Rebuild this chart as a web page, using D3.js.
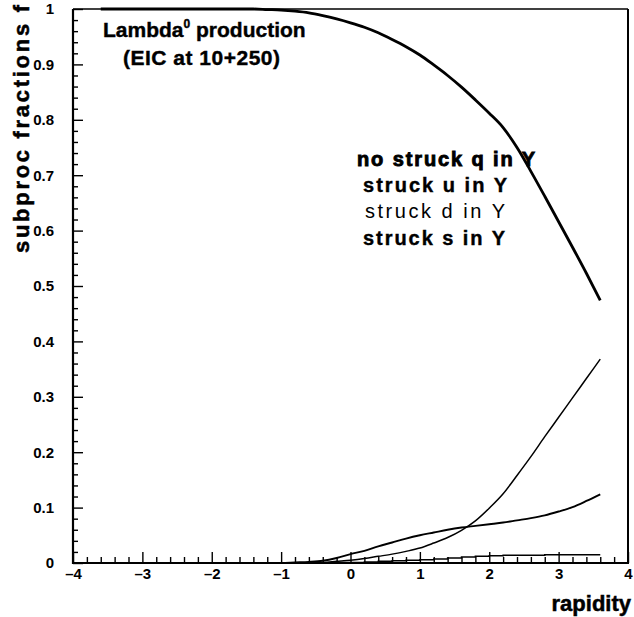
<!DOCTYPE html>
<html>
<head>
<meta charset="utf-8">
<script src="https://cdn.jsdelivr.net/npm/d3@7"></script>
<style>
  html, body { margin: 0; padding: 0; background: #fff; }
  svg { display: block; }
  text { font-family: "Liberation Sans", Arial, Helvetica, sans-serif; fill: #000; }
</style>
</head>
<body>
<svg id="chart" width="634" height="617"></svg>
<script>
// rapidity grid of the fraction curves
const rapidity = [-3.6,-3.4,-3.2,-3.0,-2.8,-2.6,-2.4,-2.2,-2.0,-1.8,-1.6,-1.4,-1.2,-1.0,-0.8,-0.6,-0.4,-0.2,
                  0.0,0.2,0.4,0.6,0.8,1.0,1.2,1.4,1.6,1.8,2.0,2.2,2.4,2.6,2.8,3.0,3.2,3.4,3.6];

// subprocess fractions
const noStruckQ = [1,1,1,1,1,1,1,1,1,1,1,1,0.999,0.998,0.996,0.993,0.988,0.982,
                   0.975,0.967,0.957,0.945,0.932,0.917,0.899,0.880,0.859,0.836,0.812,0.786,0.750,0.707,0.662,0.616,0.570,0.523,0.474];
const struckU   = [0,0,0,0,0,0,0,0,0,0,0,0,0,0,0,0,0.001,0.003,
                   0.005,0.008,0.012,0.016,0.021,0.027,0.036,0.046,0.059,0.076,0.099,0.125,0.158,0.192,0.228,0.263,0.298,0.333,0.368];
const struckD   = [0,0,0,0,0,0,0,0,0,0,0,0,0,0,0.001,0.002,0.004,0.009,
                   0.016,0.022,0.030,0.037,0.044,0.050,0.055,0.060,0.064,0.067,0.070,0.073,0.077,0.081,0.086,0.093,0.101,0.112,0.124];
const struckS   = [0,0,0,0,0,0,0,0,0,0,0,0,0,0,0,0,0,0.001,
                   0.001,0.002,0.003,0.004,0.005,0.006,0.007,0.009,0.011,0.012,0.013,0.014,0.014,0.014,0.015,0.015,0.015,0.015,0.015];

// axis ticks and labels
const xTicks = [-4,-3,-2,-1,0,1,2,3,4];
const xTickLabels = ["\u20134","\u20133","\u20132","\u20131","0","1","2","3","4"];
const yTicks = [0,0.1,0.2,0.3,0.4,0.5,0.6,0.7,0.8,0.9,1];
const yTickLabels = ["0","0.1","0.2","0.3","0.4","0.5","0.6","0.7","0.8","0.9","1"];

const legendLabels = ["no struck q in Y","struck u in Y","struck d in Y","struck s in Y"];

const svg = d3.select("#chart");
const plotLeft = 73, plotRight = 628, plotTop = 9, plotBottom = 563;

const x = d3.scaleLinear().domain([-4, 4]).range([plotLeft, plotRight]);
const y = d3.scaleLinear().domain([0, 1]).range([plotBottom, plotTop]);

// minor ticks
const xMinor = d3.range(-40, 41, 2).map(v => v / 10).filter(v => !xTicks.includes(v));
const yMinor = d3.range(0, 101, 2).map(v => v / 100).filter(v => !yTicks.some(t => Math.abs(t - v) < 1e-9));

const xMinorAxis = d3.axisBottom(x).tickValues(xMinor).tickSize(-6).tickSizeOuter(0).tickFormat("");
const yMinorAxis = d3.axisLeft(y).tickValues(yMinor).tickSize(-5).tickSizeOuter(0).tickFormat("");
const xAxis = d3.axisBottom(x).tickValues(xTicks).tickSize(-11).tickSizeOuter(0).tickPadding(5)
  .tickFormat((d, i) => xTickLabels[i]);
const yAxis = d3.axisLeft(y).tickValues(yTicks).tickSize(-10).tickSizeOuter(0).tickPadding(19)
  .tickFormat((d, i) => yTickLabels[i]);

function styleAxis(g) {
  g.select(".domain").remove();
  g.selectAll("line").attr("stroke", "#000").attr("stroke-width", 1.4);
  g.selectAll("text").attr("font-size", 15).attr("font-weight", "bold").attr("fill", "#000")
   .attr("font-family", "'Liberation Sans', Arial, sans-serif");
}

svg.append("g").attr("transform", `translate(0,${plotBottom})`).call(xMinorAxis).call(styleAxis);
svg.append("g").attr("transform", `translate(${plotLeft},0)`).call(yMinorAxis).call(styleAxis);
svg.append("g").attr("transform", `translate(0,${plotBottom})`).call(xAxis).call(styleAxis);
svg.append("g").attr("transform", `translate(${plotLeft},0)`).call(yAxis).call(styleAxis);

// frame
svg.append("line").attr("x1", plotLeft).attr("x2", plotLeft).attr("y1", plotTop).attr("y2", plotBottom + 1)
  .attr("stroke", "#000").attr("stroke-width", 2.2);
svg.append("line").attr("x1", plotLeft - 1).attr("x2", plotRight + 1).attr("y1", plotBottom).attr("y2", plotBottom)
  .attr("stroke", "#000").attr("stroke-width", 2.2);
svg.append("line").attr("x1", plotRight).attr("x2", plotRight).attr("y1", plotTop).attr("y2", plotBottom)
  .attr("stroke", "#000").attr("stroke-width", 2);
svg.append("line").attr("x1", plotLeft).attr("x2", plotRight).attr("y1", plotTop).attr("y2", plotTop)
  .attr("stroke", "#000").attr("stroke-width", 1.3);

// curves
const line = d3.line().x((d, i) => x(rapidity[i])).y(d => y(d)).curve(d3.curveMonotoneX);
const stepLine = d3.line().x((d, i) => x(rapidity[i])).y(d => y(d)).curve(d3.curveStepAfter);

svg.append("path").attr("d", line(noStruckQ)).attr("fill", "none").attr("stroke", "#000").attr("stroke-width", 2.8);
svg.append("path").attr("d", line(struckU)).attr("fill", "none").attr("stroke", "#000").attr("stroke-width", 1.5);
svg.append("path").attr("d", line(struckD)).attr("fill", "none").attr("stroke", "#000").attr("stroke-width", 1.9);
svg.append("path").attr("d", stepLine(struckS)).attr("fill", "none").attr("stroke", "#000").attr("stroke-width", 1.5);

// title
const title = svg.append("text").attr("x", 103).attr("y", 37).attr("font-size", 21).attr("font-weight", "bold")
  .attr("stroke", "#000").attr("stroke-width", 0.4);
title.append("tspan").text("Lambda");
title.append("tspan").attr("dy", -9).attr("font-size", 12).text("0");
title.append("tspan").attr("dy", 9).text(" production");
svg.append("text").attr("x", 123).attr("y", 65).attr("font-size", 21).attr("font-weight", "bold")
  .attr("stroke", "#000").attr("stroke-width", 0.4)
  .attr("textLength", 157).attr("lengthAdjust", "spacing").text("(EIC at 10+250)");

// legend text
const legendStyle = [
  {x: 357, y: 166, w: 178, weight: "bold", stroke: 0.9},
  {x: 363, y: 192, w: 144, weight: "bold", stroke: 0.4},
  {x: 365, y: 218, w: 140, weight: "normal", stroke: 0},
  {x: 363, y: 245, w: 142, weight: "bold", stroke: 0.4}
];
legendLabels.forEach((t, i) => {
  const s = legendStyle[i];
  svg.append("text").attr("x", s.x).attr("y", s.y).attr("font-size", 20).attr("font-weight", s.weight)
    .attr("textLength", s.w).attr("lengthAdjust", "spacing")
    .attr("stroke", s.stroke ? "#000" : "none").attr("stroke-width", s.stroke)
    .text(t);
});

// axis titles
svg.append("text").attr("transform", "translate(29,129) rotate(-90)").attr("text-anchor", "middle")
  .attr("font-size", 22).attr("font-weight", "bold").attr("stroke", "#000").attr("stroke-width", 0.5)
  .attr("textLength", 248).attr("lengthAdjust", "spacing")
  .text("subproc fractions f");
svg.append("text").attr("x", 631).attr("y", 611).attr("text-anchor", "end")
  .attr("font-size", 22).attr("font-weight", "bold").attr("stroke", "#000").attr("stroke-width", 0.5)
  .text("rapidity");
</script>
</body>
</html>
